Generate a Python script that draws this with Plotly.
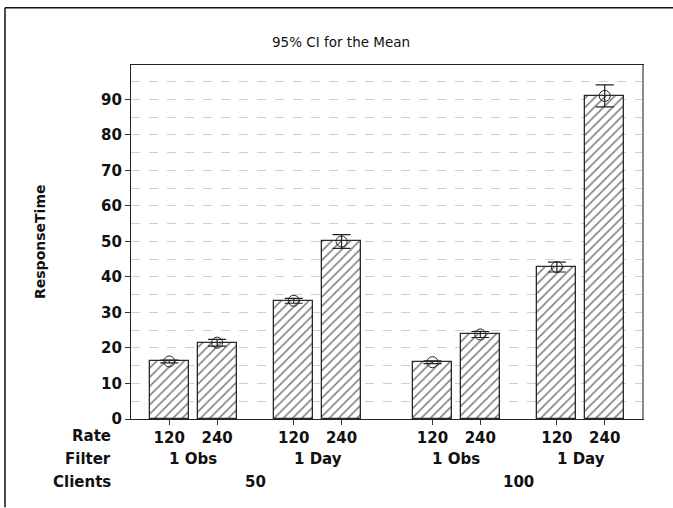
import plotly.graph_objects as go

# Interval plot data: mean response time with 95% CI half-widths
clients = ["50", "50", "50", "50", "100", "100", "100", "100"]
filters = ["1 Obs", "1 Obs", "1 Day", "1 Day", "1 Obs", "1 Obs", "1 Day", "1 Day"]
rates = ["120", "240", "120", "240", "120", "240", "120", "240"]
means = [16.2, 21.5, 33.3, 50.0, 16.0, 23.8, 42.8, 91.0]
ci_half = [0.4, 0.95, 0.7, 1.95, 0.4, 0.85, 1.4, 3.1]
y_ticks = [0, 10, 20, 30, 40, 50, 60, 70, 80, 90]

FONT = "DejaVu Sans"
INK = "#111111"

# x positions: unit step inside a filter group, wider gaps between groups
xpos = []
for i in range(len(means)):
    if i == 0:
        xpos.append(0.0)
    elif clients[i] != clients[i - 1]:
        xpos.append(xpos[-1] + 1.9)
    elif filters[i] != filters[i - 1]:
        xpos.append(xpos[-1] + 1.6)
    else:
        xpos.append(xpos[-1] + 1.0)

fig = go.Figure()

fig.add_trace(go.Bar(
    x=xpos, y=means, width=0.815,
    marker=dict(
        color="white",
        line=dict(color="#2a2a2a", width=1.3),
        pattern=dict(shape="/", size=6.5, solidity=0.24, fgcolor="#000000",
                     bgcolor="white", fillmode="overlay"),
    ),
    hoverinfo="skip", showlegend=False,
))

fig.add_trace(go.Scatter(
    x=xpos, y=means, mode="markers",
    marker=dict(symbol="circle-open", size=11, color="#222222",
                line=dict(width=1)),
    error_y=dict(type="data", array=ci_half, visible=True,
                 color="#222222", thickness=1.2, width=9),
    showlegend=False,
))

y0_px, h_px = 419.5, 355.0

def py(px):
    return (y0_px - px) / h_px

def pxx(px):
    return (px - 131) / 512

annotations = []
# row labels on the left
for text, ypx in [("Rate", 437), ("Filter", 460), ("Clients", 483)]:
    annotations.append(dict(
        text=text, xref="paper", yref="paper", x=pxx(113), y=py(ypx),
        xanchor="right", yanchor="middle", showarrow=False,
        font=dict(family=FONT, size=15, color=INK, weight="bold"),
    ))

# filter-group labels
for i in range(0, len(means), 2):
    annotations.append(dict(
        text=filters[i], xref="x", yref="paper", x=(xpos[i] + xpos[i + 1]) / 2,
        y=py(460), xanchor="center", yanchor="middle", showarrow=False,
        font=dict(family=FONT, size=15, color=INK, weight="bold"),
    ))

# client-group labels
for i in range(0, len(means), 4):
    annotations.append(dict(
        text=clients[i], xref="x", yref="paper", x=(xpos[i] + xpos[i + 3]) / 2,
        y=py(483), xanchor="center", yanchor="middle", showarrow=False,
        font=dict(family=FONT, size=15, color=INK, weight="bold"),
    ))

# y-axis title
annotations.append(dict(
    text="ResponseTime", xref="paper", yref="paper", x=pxx(40), y=0.5,
    xanchor="center", yanchor="middle", textangle=-90, showarrow=False,
    font=dict(family=FONT, size=14, color=INK, weight="bold"),
))

# chart title
annotations.append(dict(
    text="95% CI for the Mean", xref="paper", yref="paper", x=pxx(341),
    y=py(41), xanchor="center", yanchor="middle", showarrow=False,
    font=dict(family=FONT, size=13.5, color=INK),
))

shapes = [
    # outer frame: top and left edges
    dict(type="line", xref="paper", yref="paper",
         x0=pxx(5), x1=pxx(673), y0=py(7), y1=py(7),
         line=dict(color="#111111", width=1.5), layer="above"),
    dict(type="line", xref="paper", yref="paper",
         x0=pxx(5), x1=pxx(5), y0=py(7), y1=py(508),
         line=dict(color="#111111", width=1.5), layer="above"),
    # right edge of plot area
    dict(type="line", xref="paper", yref="paper", x0=1, x1=1, y0=0, y1=1,
         line=dict(color="#8a8a8a", width=2), layer="above"),
]

fig.update_layout(
    width=673, height=508,
    margin=dict(l=131, r=30, t=64.5, b=88.5),
    paper_bgcolor="white", plot_bgcolor="white",
    bargap=0,
    annotations=annotations,
    shapes=shapes,
    font=dict(family=FONT, color=INK),
)

fig.update_xaxes(
    range=[-0.8, 9.9],
    tickmode="array", tickvals=xpos, ticktext=rates,
    ticks="outside", ticklen=5, tickcolor="#333333",
    tickfont=dict(family=FONT, size=15, color=INK, weight="bold"),
    showline=True, linecolor="#222222", linewidth=1.3, mirror=True,
    showgrid=False, zeroline=False,
)

fig.update_yaxes(
    range=[0, 99.7],
    tickmode="array", tickvals=y_ticks,
    ticks="outside", ticklen=5, tickcolor="#333333",
    tickfont=dict(family=FONT, size=15, color=INK, weight="bold"),
    showline=True, linecolor="#222222", linewidth=1.3, mirror=True,
    showgrid=True, gridcolor="#cfcfcf", gridwidth=1, griddash="dash",
    minor=dict(dtick=5, tick0=0, showgrid=True, gridcolor="#cfcfcf",
               griddash="dash", gridwidth=1, ticks=""),
    zeroline=False,
)

fig.write_html("out.html")
